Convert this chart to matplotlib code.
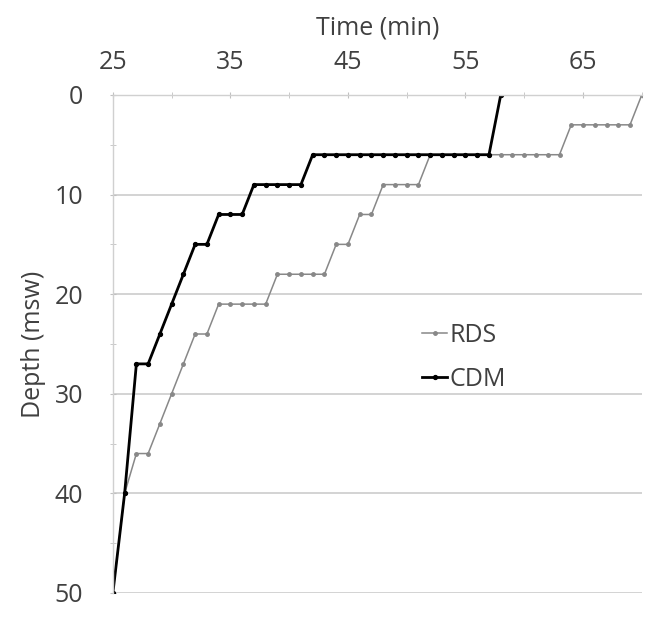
import matplotlib
matplotlib.use("Agg")
import matplotlib.pyplot as plt
from matplotlib.ticker import MultipleLocator

plt.rcParams['font.family'] = ['Open Sans', 'DejaVu Sans']

# time (min) and depth (msw)
rds_time = [25, 26, 27, 28, 29, 30, 31, 32, 33, 34, 35, 36, 37, 38, 39, 40, 41, 42, 43,
            44, 45, 46, 47, 48, 49, 50, 51, 52, 53, 54, 55, 56, 57, 58, 59, 60, 61, 62, 63,
            64, 65, 66, 67, 68, 69, 70]
rds_depth = [50, 40, 36, 36, 33, 30, 27, 24, 24, 21, 21, 21, 21, 21, 18, 18, 18, 18, 18,
             15, 15, 12, 12, 9, 9, 9, 9, 6, 6, 6, 6, 6, 6, 6, 6, 6, 6, 6, 6,
             3, 3, 3, 3, 3, 3, 0]

cdm_time = [25, 26, 27, 28, 29, 30, 31, 32, 33, 34, 35, 36, 37, 38, 39, 40, 41, 42, 43,
            44, 45, 46, 47, 48, 49, 50, 51, 52, 53, 54, 55, 56, 57, 58]
cdm_depth = [50, 40, 27, 27, 24, 21, 18, 15, 15, 12, 12, 12, 9, 9, 9, 9, 9, 6, 6,
             6, 6, 6, 6, 6, 6, 6, 6, 6, 6, 6, 6, 6, 6, 0]

text_col = '#404040'
grid_col = '#d0d0d0'
fs = 18

fig = plt.figure(figsize=(6.45, 6.33), dpi=100)
ax = fig.add_axes([0.175, 0.0632, 0.82, 0.7868])

ax.plot(rds_time, rds_depth, color='#888888', lw=1.1, marker='o', ms=2.5, label='RDS')
ax.plot(cdm_time, cdm_depth, color='black', lw=2.0, marker='o', ms=2.8, label='CDM')

ax.set_xlim(25, 70)
ax.set_ylim(50, 0)
ax.xaxis.tick_top()
ax.xaxis.set_label_position('top')
ax.set_xticks([25, 35, 45, 55, 65])
ax.xaxis.set_minor_locator(MultipleLocator(5))
ax.yaxis.set_major_locator(MultipleLocator(10))
ax.yaxis.set_minor_locator(MultipleLocator(5))
ax.grid(axis='y', which='major', color=grid_col, lw=1.3)
ax.set_axisbelow(True)

for side in ['right', 'bottom']:
    ax.spines[side].set_visible(False)
for side in ['top', 'left']:
    ax.spines[side].set_color(grid_col)
    ax.spines[side].set_linewidth(1.0)

ax.tick_params(which='both', direction='inout', color='#c0c0c0', labelsize=fs,
               labelcolor=text_col, length=5)
ax.tick_params(axis='x', pad=12)
ax.tick_params(axis='y', pad=19)

ax.set_xlabel('Time (min)', fontsize=fs, color=text_col, labelpad=11)
ax.set_ylabel('Depth (msw)', fontsize=fs, color=text_col, labelpad=6)

ax.legend(loc='center left', bbox_to_anchor=(0.585, 0.473), frameon=False,
          fontsize=fs, handlelength=1.0, handletextpad=0.1, labelspacing=0.75,
          borderpad=0, borderaxespad=0, labelcolor=text_col)

fig.savefig('out.png', dpi=100)
